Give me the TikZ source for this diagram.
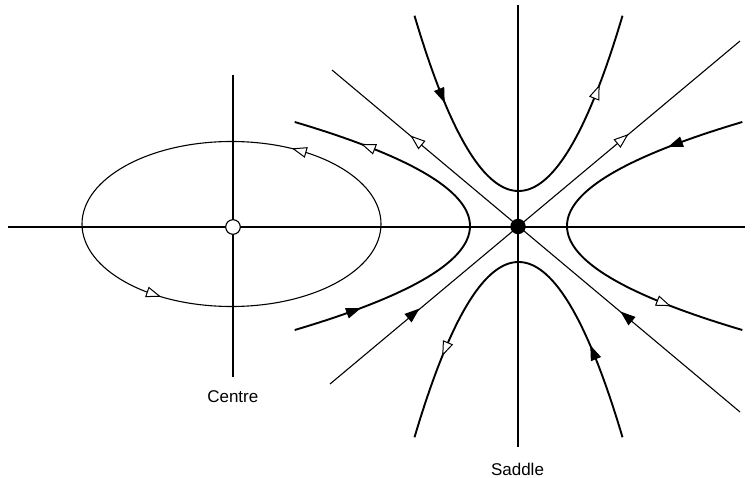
\documentclass[tikz,border=0pt]{standalone}
\usepackage{fontspec}
\setmainfont{Liberation Sans}
\newcommand\flowtri[5]{\draw[#1] ({#2+7*#4},{#3+7*#5}) -- ({#2-6*#4-4.8*#5},{#3-6*#5+4.8*#4}) -- ({#2-6*#4+4.8*#5},{#3-6*#5-4.8*#4}) -- cycle;}
\tikzset{
  thinline/.style={line width=1.1pt},
  flowcurve/.style={line width=1.9pt},
  tipfilled/.style={draw=black, fill=black, line width=1pt, line join=miter},
  tipopen/.style={draw=black, fill=white, line width=1pt, line join=miter},
  lbl/.style={anchor=base, inner sep=0pt, font=\fontsize{17}{20}\selectfont},
}
\begin{document}
\begin{tikzpicture}[x=1pt,y=-1pt]
\useasboundingbox (0,0) rectangle (754,478);
% axes
\coordinate (hl) at (8,227);
\coordinate (hr) at (745,227);
\coordinate (cvt) at (233,75);
\coordinate (cvb) at (233,377);
\coordinate (svt) at (518,5);
\coordinate (svb) at (518,447);
\coordinate (ul) at (332,70);
\coordinate (lr) at (740,412);
\coordinate (ll) at (330,384);
\coordinate (ur) at (740,41);
\draw[thinline] (hl) -- (hr);
\draw[thinline] (cvt) -- (cvb);
\draw[thinline] (svt) -- (svb);
\draw[thinline] (ul) -- (lr);
\draw[thinline] (ll) -- (ur);
% centre orbit
\draw[thinline] (231.5,224) ellipse [x radius=149.5pt, y radius=82.5pt];
\flowtri{tipopen}{300}{150.7}{-0.962}{-0.274}
\flowtri{tipopen}{153}{294}{0.946}{0.322}
% diagonal arrows
\flowtri{tipopen}{417}{141}{-0.766}{-0.643}
\flowtri{tipopen}{622}{139.5}{0.768}{-0.640}
\flowtri{tipfilled}{413}{314}{0.765}{-0.643}
\flowtri{tipfilled}{627}{317}{-0.767}{-0.642}
% saddle trajectories
\draw[flowcurve] plot[domain=-104:104, samples=80] ({518.5+\x},{191-0.0162*\x*\x});
\draw[flowcurve] plot[domain=-104:104, samples=80] ({518.5+\x},{262+0.0162*\x*\x});
\draw[flowcurve] plot[domain=-104:104, samples=80] ({470-0.0162*\x*\x},{226+\x});
\draw[flowcurve] plot[domain=-104:104, samples=80] ({567+0.0162*\x*\x},{226+\x});
\flowtri{tipfilled}{441.5}{95}{0.372}{0.928}
\flowtri{tipopen}{596.5}{92.6}{0.368}{-0.930}
\flowtri{tipopen}{445.5}{348.3}{-0.389}{0.921}
\flowtri{tipfilled}{593.5}{353.1}{-0.381}{-0.925}
\flowtri{tipopen}{368.9}{147}{-0.932}{-0.364}
\flowtri{tipfilled}{353}{311}{0.940}{-0.341}
\flowtri{tipfilled}{675.9}{144}{-0.936}{0.352}
\flowtri{tipopen}{663}{303}{0.928}{0.372}
% equilibria
\node[draw, circle, fill=white, line width=1.1pt, minimum size=14.6pt, inner sep=0pt] (centre) at (233,227) {};
\node[circle, fill=black, minimum size=15.4pt, inner sep=0pt] (saddle) at (518,226.5) {};
% labels
\node[lbl] (centrelbl) at (232.8,402.5) {Centre};
\node[lbl] (saddlelbl) at (517.5,475) {Saddle};
\end{tikzpicture}
\end{document}
